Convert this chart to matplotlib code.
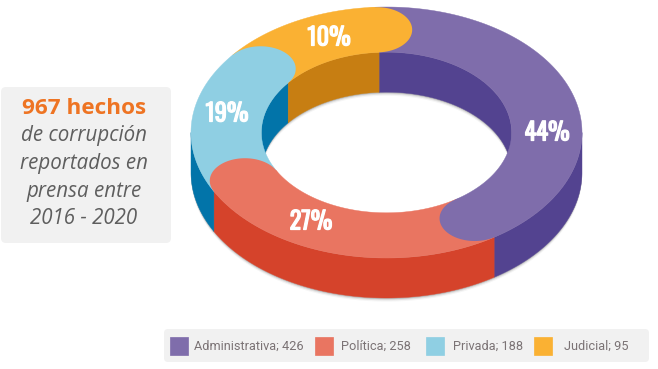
import numpy as np
import matplotlib
matplotlib.use("Agg")
import matplotlib.pyplot as plt
import matplotlib.patheffects as pe
from matplotlib.patches import FancyBboxPatch, Rectangle

categories = ["Administrativa", "Política", "Privada", "Judicial"]
values = [426, 258, 188, 95]
shares = ["44%", "27%", "19%", "10%"]
# angular sweep of each slice as drawn in the picture (degrees, clockwise)
sweeps = [150.0, 95.4, 66.2, 48.4]
start_angle = -3.4

top_colors = ["#7F6DAB", "#E97561", "#8FCFE3", "#FAB133"]
side_colors = ["#534390", "#D5432B", "#0274A9", "#C77E12"]
label_xy = [(547, 133), (311, 222), (227, 114), (329, 38)]
legend_swatch_x = [170, 314.5, 426, 534]
legend_text_x = [194, 341, 453, 564]

CX, CY, RX, RY = 386.5, 132.5, 195.5, 125.5
INNER, DEPTH = 0.64, 40
MID, HALF = (1 + INNER) / 2, (1 - INNER) / 2

plt.rcParams["font.family"] = ["Open Sans", "DejaVu Sans"]
fig = plt.figure(figsize=(6.58, 3.69), dpi=100, facecolor="white")
ax = fig.add_axes([0, 0, 1, 1])
ax.set_xlim(0, 658)
ax.set_ylim(369, 0)
ax.axis("off")


def pt(r, t):
    a = np.radians(t)
    return CX + RX * r * np.sin(a), CY - RY * r * np.cos(a)


def band(r, t0, t1, color, z, dy=0, **kw):
    t = np.linspace(t0, t1, 200)
    x, y = pt(r, t)
    ax.fill(np.r_[x, x[::-1]], np.r_[y, (y + DEPTH + dy)[::-1]],
            facecolor=color, edgecolor=kw.pop("ec", color), lw=kw.pop("lw", 0.3), zorder=z, **kw)


edges = start_angle + np.r_[0, np.cumsum(sweeps)]

# soft shadows below the outer side and the inner wall
for dy, alpha in [(1.2, 0.16), (2.4, 0.08), (3.6, 0.04)]:
    band(1.0, 90, 270, "#000000", 1, dy=dy, alpha=alpha, ec="none", lw=0)
    band(INNER, 270, 450, "#000000", 1, dy=dy, alpha=alpha, ec="none", lw=0)

# extruded sides: outer wall (front half) and inner wall (back half)
for c, t0, t1 in zip(side_colors, edges[:-1], edges[1:]):
    lo, hi = max(t0, 90), min(t1, 270)
    if hi > lo:
        band(1.0, lo, hi, c, 2)
    for shift in (0, 360):
        lo, hi = max(t0 + shift, 270), min(t1 + shift, 450)
        if hi > lo:
            band(INNER, lo, hi, c, 2)

# top face ring
for c, t0, t1 in zip(top_colors, edges[:-1], edges[1:]):
    t = np.linspace(t0, t1, 300)
    xo, yo = pt(1.0, t)
    xi, yi = pt(INNER, t)
    ax.fill(np.r_[xo, xi[::-1]], np.r_[yo, yi[::-1]], facecolor=c, edgecolor=c, lw=0.3, zorder=3)

# rounded end of each slice, lying over the next slice
phi = np.linspace(0, 2 * np.pi, 200)
for c, t1 in zip(top_colors, edges[1:]):
    cx, cy = pt(MID, t1)
    ax.fill(cx + HALF * RX * np.cos(phi), cy + HALF * RY * np.sin(phi),
            facecolor=c, edgecolor="none", zorder=4)

# percentage labels
for s, (x, y) in zip(shares, label_xy):
    ax.text(x, y, s, color="white", fontsize=17.5, fontweight="bold",
            family=["Oswald", "Liberation Sans"], ha="center", va="center", zorder=6,
            path_effects=[pe.withStroke(linewidth=0.9, foreground="white")])

# note box
ax.add_patch(FancyBboxPatch((5, 91), 162, 148, boxstyle="round,pad=4,rounding_size=5",
                            fc="#F1F1F1", ec="none", zorder=1))
ax.text(84.5, 108, "967 hechos", color="#EE7423", fontsize=16.2, fontweight="bold",
        ha="center", va="center", zorder=2)
for line, y in zip(["de corrupción", "reportados en", "prensa entre", "2016 - 2020"],
                   [136, 163, 191, 218]):
    ax.text(84, y, line, color="#5E5E5E", fontsize=14.8, style="italic",
            ha="center", va="center", zorder=2)

# legend
ax.add_patch(FancyBboxPatch((167, 332), 479, 27, boxstyle="round,pad=3,rounding_size=4",
                            fc="#F1F1F1", ec="none", zorder=1))
for c, cat, val, sx, tx in zip(top_colors, categories, values, legend_swatch_x, legend_text_x):
    ax.add_patch(Rectangle((sx, 337), 18, 18, fc=c, ec=c, lw=0.5, zorder=2))
    ax.text(tx, 346, f"{cat}; {val}", color="#7B7375", fontsize=9.15, family="Roboto",
            ha="left", va="center", zorder=2)

fig.savefig("out.png", dpi=100, facecolor="white")
